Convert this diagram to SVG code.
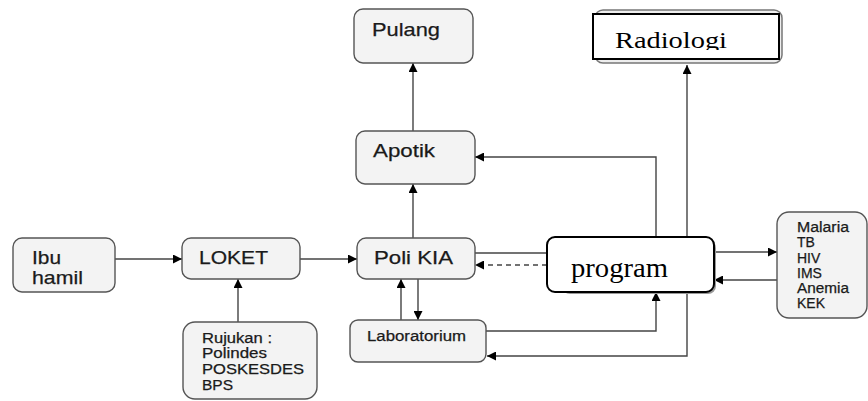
<svg xmlns="http://www.w3.org/2000/svg" width="868" height="401" viewBox="0 0 868 401">
<style>
.box{fill:#f3f3f3;stroke:#555;stroke-width:1.4}
.t{font-family:"Liberation Sans",Arial,sans-serif;fill:#1a1a1a;stroke:#1a1a1a;stroke-width:0.25}
.s{font-family:"Liberation Serif","Times New Roman",serif;fill:#000}
.c{fill:none;stroke:#444;stroke-width:1.4}
.d{stroke-dasharray:5,4}
</style>
<defs>
<marker id="ah" viewBox="0 0 10 10" refX="10" refY="5" markerUnits="userSpaceOnUse" markerWidth="10" markerHeight="9" orient="auto">
<path d="M0,0 L10,5 L0,10 z" fill="#000"/>
</marker>
<clipPath id="radclip"><rect x="593" y="14" width="186" height="36"/></clipPath>
</defs>
<rect width="868" height="401" fill="#fff"/>
<g id="connectors">
<path class="c" d="M115,259 H182" marker-end="url(#ah)"/>
<path class="c" d="M300,259 H357" marker-end="url(#ah)"/>
<path class="c" d="M238,322 V279" marker-end="url(#ah)"/>
<path class="c" d="M413,238 V184" marker-end="url(#ah)"/>
<path class="c" d="M413,131 V63" marker-end="url(#ah)"/>
<path class="c" d="M401,320 V279" marker-end="url(#ah)"/>
<path class="c" d="M418,279 V320" marker-end="url(#ah)"/>
<path class="c" d="M475,253 H547"/>
<path class="c d" d="M547,265 H475" marker-end="url(#ah)"/>
<path class="c" d="M656,237 V157 H475" marker-end="url(#ah)"/>
<path class="c" d="M486,331 H656 V292" marker-end="url(#ah)"/>
<path class="c" d="M687,237 V65" marker-end="url(#ah)"/>
<path class="c" d="M687,292 V356 H487" marker-end="url(#ah)"/>
<path class="c" d="M714,252 H777" marker-end="url(#ah)"/>
<path class="c" d="M777,280 H714" marker-end="url(#ah)"/>
</g>
<g id="pulang">
<rect class="box" x="354" y="9" width="119" height="54" rx="9"/>
<text class="t" x="372" y="36" font-size="19" textLength="68" lengthAdjust="spacingAndGlyphs">Pulang</text>
</g>
<g id="apotik">
<rect class="box" x="356" y="131" width="119" height="53" rx="9"/>
<text class="t" x="373" y="157" font-size="19" textLength="62" lengthAdjust="spacingAndGlyphs">Apotik</text>
</g>
<g id="radiologi">
<rect x="595" y="10" width="187" height="53" rx="8" fill="#eee" stroke="#777" stroke-width="1.5"/>
<rect x="593" y="14" width="186" height="45" fill="#fff" stroke="#000" stroke-width="2"/>
<text class="s" x="615" y="48" font-size="24" textLength="112" lengthAdjust="spacingAndGlyphs" clip-path="url(#radclip)">Radiologi</text>
</g>
<g id="ibu-hamil">
<rect class="box" x="13" y="238" width="102" height="54" rx="9"/>
<text class="t" x="32" y="264" font-size="19" textLength="29" lengthAdjust="spacingAndGlyphs">Ibu</text>
<text class="t" x="32" y="284" font-size="19" textLength="51" lengthAdjust="spacingAndGlyphs">hamil</text>
</g>
<g id="loket">
<rect class="box" x="182" y="238" width="118" height="41" rx="9"/>
<text class="t" x="199" y="264" font-size="19" textLength="69" lengthAdjust="spacingAndGlyphs">LOKET</text>
</g>
<g id="poli-kia">
<rect class="box" x="357" y="238" width="118" height="41" rx="9"/>
<text class="t" x="374" y="264" font-size="19" textLength="79" lengthAdjust="spacingAndGlyphs">Poli KIA</text>
</g>
<g id="rujukan">
<rect class="box" x="183" y="322" width="134" height="77" rx="12"/>
<text class="t" x="202" y="343" font-size="14" textLength="70" lengthAdjust="spacingAndGlyphs">Rujukan :</text>
<text class="t" x="202" y="358" font-size="14" textLength="65" lengthAdjust="spacingAndGlyphs">Polindes</text>
<text class="t" x="202" y="374" font-size="14" textLength="102" lengthAdjust="spacingAndGlyphs">POSKESDES</text>
<text class="t" x="202" y="390" font-size="14" textLength="31" lengthAdjust="spacingAndGlyphs">BPS</text>
</g>
<g id="laboratorium">
<rect class="box" x="350" y="320" width="136" height="42" rx="8"/>
<text class="t" x="367" y="341" font-size="14" textLength="99" lengthAdjust="spacingAndGlyphs">Laboratorium</text>
</g>
<g id="program">
<rect x="562" y="240" width="154" height="54" rx="8" fill="#999"/>
<rect x="547" y="237" width="167" height="55" rx="8" fill="#fff" stroke="#000" stroke-width="2"/>
<text class="s" x="571" y="277" font-size="27" textLength="97" lengthAdjust="spacingAndGlyphs">program</text>
</g>
<g id="penyakit">
<rect class="box" x="777" y="212" width="90" height="106" rx="12"/>
<text class="t" x="797" y="232" font-size="14" textLength="52" lengthAdjust="spacingAndGlyphs">Malaria</text>
<text class="t" x="797" y="247" font-size="14">TB</text>
<text class="t" x="797" y="263" font-size="14">HIV</text>
<text class="t" x="797" y="278" font-size="14">IMS</text>
<text class="t" x="797" y="293" font-size="14" textLength="52" lengthAdjust="spacingAndGlyphs">Anemia</text>
<text class="t" x="797" y="308" font-size="14">KEK</text>
</g>
</svg>
